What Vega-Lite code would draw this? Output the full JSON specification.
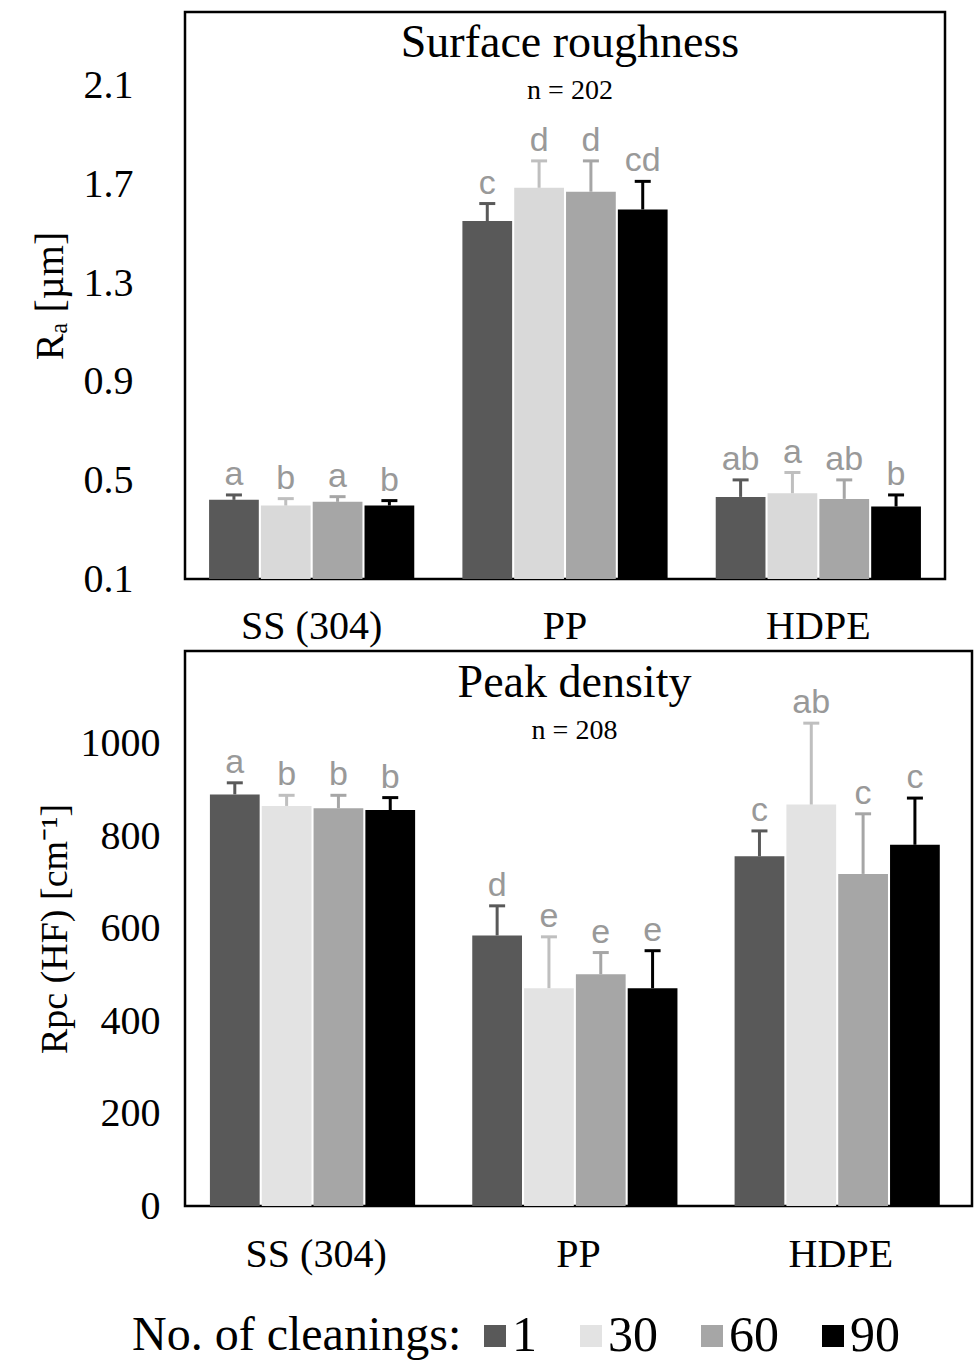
{
  "$schema": "https://vega.github.io/schema/vega-lite/v6.json",
  "background": "white",
  "padding": {"left": 28, "top": 10, "right": 5, "bottom": 0},
  "spacing": 1,
  "datasets": {
    "ra": [
      {"material": "SS (304)", "cleanings": "1", "value": 0.421, "err": 0.441, "letter": "a"},
      {"material": "SS (304)", "cleanings": "30", "value": 0.398, "err": 0.426, "letter": "b"},
      {"material": "SS (304)", "cleanings": "60", "value": 0.413, "err": 0.434, "letter": "a"},
      {"material": "SS (304)", "cleanings": "90", "value": 0.398, "err": 0.418, "letter": "b"},
      {"material": "PP", "cleanings": "1", "value": 1.552, "err": 1.623, "letter": "c"},
      {"material": "PP", "cleanings": "30", "value": 1.687, "err": 1.796, "letter": "d"},
      {"material": "PP", "cleanings": "60", "value": 1.671, "err": 1.796, "letter": "d"},
      {"material": "PP", "cleanings": "90", "value": 1.599, "err": 1.713, "letter": "cd"},
      {"material": "HDPE", "cleanings": "1", "value": 0.433, "err": 0.502, "letter": "ab"},
      {"material": "HDPE", "cleanings": "30", "value": 0.448, "err": 0.532, "letter": "a"},
      {"material": "HDPE", "cleanings": "60", "value": 0.425, "err": 0.502, "letter": "ab"},
      {"material": "HDPE", "cleanings": "90", "value": 0.394, "err": 0.441, "letter": "b"}
    ],
    "rpc": [
      {"material": "SS (304)", "cleanings": "1", "value": 890, "err": 915, "letter": "a"},
      {"material": "SS (304)", "cleanings": "30", "value": 865, "err": 888, "letter": "b"},
      {"material": "SS (304)", "cleanings": "60", "value": 860, "err": 888, "letter": "b"},
      {"material": "SS (304)", "cleanings": "90", "value": 856, "err": 883, "letter": "b"},
      {"material": "PP", "cleanings": "1", "value": 585, "err": 649, "letter": "d"},
      {"material": "PP", "cleanings": "30", "value": 471, "err": 582, "letter": "e"},
      {"material": "PP", "cleanings": "60", "value": 501, "err": 548, "letter": "e"},
      {"material": "PP", "cleanings": "90", "value": 471, "err": 552, "letter": "e"},
      {"material": "HDPE", "cleanings": "1", "value": 756, "err": 811, "letter": "c"},
      {"material": "HDPE", "cleanings": "30", "value": 868, "err": 1044, "letter": "ab"},
      {"material": "HDPE", "cleanings": "60", "value": 718, "err": 848, "letter": "c"},
      {"material": "HDPE", "cleanings": "90", "value": 781, "err": 882, "letter": "c"}
    ]
  },
  "vconcat": [
    {
      "width": 760,
      "height": 567,
      "data": {"name": "ra"},
      "title": {
        "text": "Surface roughness",
        "subtitle": "n = 202",
        "offset": -94,
        "dx": 5,
        "anchor": "middle",
        "font": "Liberation Serif",
        "fontSize": 46,
        "fontWeight": "normal",
        "color": "black",
        "subtitleFont": "Liberation Serif",
        "subtitleFontSize": 28,
        "subtitleColor": "black",
        "subtitlePadding": 10
      },
      "encoding": {
        "x": {
          "field": "material", "type": "nominal", "sort": ["SS (304)", "PP", "HDPE"],
          "scale": {"paddingInner": 0.19, "paddingOuter": 0.095},
          "axis": {"title": null, "labelAngle": 0, "domain": false, "ticks": false, "labelPadding": 27, "labelFont": "Liberation Serif", "labelFontSize": 40, "labelColor": "black"}
        },
        "xOffset": {"field": "cleanings", "type": "nominal", "sort": ["1", "30", "60", "90"], "scale": {"paddingInner": 0.04}}
      },
      "layer": [
        {
          "mark": {"type": "bar", "opacity": 1},
          "encoding": {
            "y": {
              "field": "value", "type": "quantitative",
              "scale": {"domain": [0.1, 2.4], "nice": false, "zero": false},
              "axis": {"title": "Rₐ [µm]", "values": [0.1, 0.5, 0.9, 1.3, 1.7, 2.1], "format": ".1f", "grid": false, "domain": false, "ticks": false, "labelPadding": 52, "labelFont": "Liberation Serif", "labelFontSize": 40, "labelColor": "black", "titleFont": "Liberation Serif", "titleFontSize": 40, "titleFontWeight": "normal", "titleColor": "black", "titlePadding": 13}
            },
            "y2": {"datum": 0.1},
            "color": {
              "field": "cleanings", "type": "nominal", "sort": ["1", "30", "60", "90"],
              "scale": {"domain": ["1", "30", "60", "90"], "range": ["#595959", "#d9d9d9", "#a6a6a6", "#000000"]},
              "legend": null
            }
          }
        },
        {
          "mark": {"type": "rule", "strokeWidth": 3, "opacity": 1},
          "encoding": {
            "y": {"field": "value", "type": "quantitative"},
            "y2": {"field": "err"},
            "color": {"condition": {"test": "datum.cleanings === '30'", "value": "#bfbfbf"}, "field": "cleanings", "type": "nominal", "legend": null}
          }
        },
        {
          "mark": {"type": "tick", "thickness": 3, "size": 16, "opacity": 1},
          "encoding": {
            "y": {"field": "err", "type": "quantitative"},
            "color": {"condition": {"test": "datum.cleanings === '30'", "value": "#bfbfbf"}, "field": "cleanings", "type": "nominal", "legend": null}
          }
        },
        {
          "mark": {"type": "text", "font": "Liberation Sans", "fontSize": 34, "color": "#999999", "dy": -10, "baseline": "alphabetic"},
          "encoding": {
            "y": {"field": "err", "type": "quantitative"},
            "text": {"field": "letter"}
          }
        }
      ]
    },
    {
      "width": 787,
      "height": 555,
      "data": {"name": "rpc"},
      "title": {
        "text": "Peak density",
        "subtitle": "n = 208",
        "offset": -95,
        "dx": -4,
        "anchor": "middle",
        "font": "Liberation Serif",
        "fontSize": 46,
        "fontWeight": "normal",
        "color": "black",
        "subtitleFont": "Liberation Serif",
        "subtitleFontSize": 28,
        "subtitleColor": "black",
        "subtitlePadding": 10
      },
      "encoding": {
        "x": {
          "field": "material", "type": "nominal", "sort": ["SS (304)", "PP", "HDPE"],
          "scale": {"paddingInner": 0.19, "paddingOuter": 0.095},
          "axis": {"title": null, "labelAngle": 0, "domain": false, "ticks": false, "labelPadding": 28, "labelFont": "Liberation Serif", "labelFontSize": 40, "labelColor": "black"}
        },
        "xOffset": {"field": "cleanings", "type": "nominal", "sort": ["1", "30", "60", "90"], "scale": {"paddingInner": 0.04}}
      },
      "layer": [
        {
          "mark": {"type": "bar", "opacity": 1},
          "encoding": {
            "y": {
              "field": "value", "type": "quantitative",
              "scale": {"domain": [0, 1200], "nice": false},
              "axis": {"title": "Rpc (HF) [cm⁻¹]", "values": [0, 200, 400, 600, 800, 1000], "format": "d", "grid": false, "domain": false, "ticks": false, "labelPadding": 25, "labelFont": "Liberation Serif", "labelFontSize": 40, "labelColor": "black", "titleFont": "Liberation Serif", "titleFontSize": 38, "titleFontWeight": "normal", "titleColor": "black", "titlePadding": 6}
            },
            "y2": {"datum": 0},
            "color": {
              "field": "cleanings", "type": "nominal", "sort": ["1", "30", "60", "90"],
              "scale": {"domain": ["1", "30", "60", "90"], "range": ["#595959", "#e3e3e3", "#a6a6a6", "#000000"]},
              "legend": {"orient": "none", "legendX": -53, "legendY": 660, "direction": "horizontal", "title": "No. of cleanings:", "titleLimit": 1000, "labelLimit": 1000, "titleOrient": "left", "titleFont": "Liberation Serif", "titleFontSize": 48, "titleFontWeight": "normal", "titleColor": "black", "titlePadding": 8, "labelFont": "Liberation Serif", "labelFontSize": 50, "labelColor": "black", "labelOffset": -8, "symbolType": "square", "symbolSize": 484, "symbolStrokeWidth": 0, "symbolOpacity": 1, "columnPadding": 29}
            }
          }
        },
        {
          "mark": {"type": "rule", "strokeWidth": 3, "opacity": 1},
          "encoding": {
            "y": {"field": "value", "type": "quantitative"},
            "y2": {"field": "err"},
            "color": {"condition": {"test": "datum.cleanings === '30'", "value": "#bfbfbf"}, "field": "cleanings", "type": "nominal"}
          }
        },
        {
          "mark": {"type": "tick", "thickness": 3, "size": 16, "opacity": 1},
          "encoding": {
            "y": {"field": "err", "type": "quantitative"},
            "color": {"condition": {"test": "datum.cleanings === '30'", "value": "#bfbfbf"}, "field": "cleanings", "type": "nominal"}
          }
        },
        {
          "mark": {"type": "text", "font": "Liberation Sans", "fontSize": 34, "color": "#999999", "dy": -10, "baseline": "alphabetic"},
          "encoding": {
            "y": {"field": "err", "type": "quantitative"},
            "text": {"field": "letter"}
          }
        }
      ]
    }
  ],
  "resolve": {"scale": {"color": "independent"}, "legend": {"color": "independent"}},
  "config": {
    "view": {"stroke": "black", "strokeWidth": 2.5}
  }
}
